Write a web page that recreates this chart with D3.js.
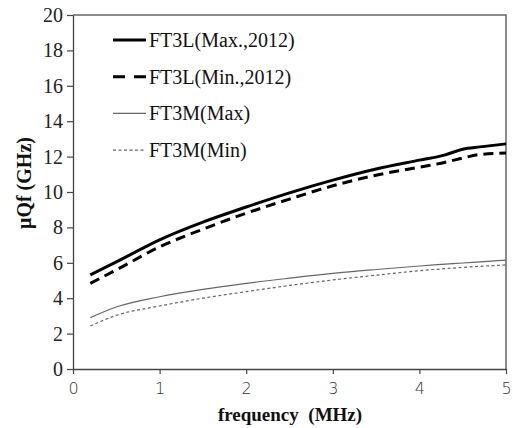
<!DOCTYPE html>
<html>
<head>
<meta charset="utf-8">
<script src="https://cdn.jsdelivr.net/npm/d3@7"></script>
<style>
  html, body { margin: 0; padding: 0; background: #fff; }
  svg { display: block; }
  .serif { font-family: "Liberation Serif", "Times New Roman", serif; }
</style>
</head>
<body>
<svg id="chart" width="513" height="428"></svg>
<script>
// Frequency points (MHz)
const freq = [0.2, 0.5, 1.0, 1.5, 2.0, 2.5, 3.0, 3.5, 4.0, 4.3, 4.5, 4.7, 5.0];

// μQf values (GHz)
const ft3lMax = [5.32, 6.05, 7.3, 8.3, 9.15, 9.95, 10.67, 11.3, 11.8, 12.1, 12.42, 12.55, 12.72];
const ft3lMin = [4.84, 5.6, 6.9, 7.9, 8.8, 9.6, 10.35, 10.95, 11.4, 11.68, 11.92, 12.12, 12.2];
const ft3mMax = [2.9, 3.5, 4.08, 4.5, 4.84, 5.13, 5.4, 5.62, 5.82, 5.92, 5.99, 6.05, 6.15];
const ft3mMin = [2.43, 3.03, 3.56, 4.0, 4.37, 4.72, 5.03, 5.3, 5.55, 5.67, 5.74, 5.8, 5.88];

const seriesNames = ["FT3L(Max.,2012)", "FT3L(Min.,2012)", "FT3M(Max)", "FT3M(Min)"];
const xTicks = [0, 1, 2, 3, 4, 5];
const yTicks = [0, 2, 4, 6, 8, 10, 12, 14, 16, 18, 20];

const svg = d3.select("#chart");
const plotLeft = 73, plotRight = 506, plotTop = 15, plotBottom = 369;

const x = d3.scaleLinear().domain([0, 5]).range([plotLeft, plotRight]);
const y = d3.scaleLinear().domain([0, 20]).range([plotBottom, plotTop]);

// Frame: top and right edges
svg.append("path")
  .attr("d", `M${plotLeft},${plotTop}H${plotRight}V${plotBottom}`)
  .attr("fill", "none")
  .attr("stroke", "#666")
  .attr("stroke-width", 1.5);

// Y axis
const yAxis = svg.append("g")
  .attr("transform", `translate(${plotLeft},0)`)
  .call(d3.axisLeft(y).tickValues(yTicks).tickFormat(d3.format("d"))
    .tickSize(6).tickSizeOuter(0).tickPadding(4));
yAxis.attr("font-family", null);
yAxis.select(".domain").attr("stroke", "#444").attr("stroke-width", 1.3);
yAxis.selectAll(".tick line").attr("stroke", "#444").attr("stroke-width", 1.2);
yAxis.selectAll(".tick text")
  .attr("class", "serif")
  .attr("font-size", 20)
  .attr("fill", "#222");

// X axis
const xAxis = svg.append("g")
  .attr("transform", `translate(0,${plotBottom})`)
  .call(d3.axisBottom(x).tickValues(xTicks).tickFormat(d3.format("d"))
    .tickSize(5).tickSizeOuter(0).tickPadding(9));
xAxis.attr("font-family", null);
xAxis.select(".domain").attr("stroke", "#444").attr("stroke-width", 1.3);
xAxis.selectAll(".tick line").attr("stroke", "#444").attr("stroke-width", 1.2);
xAxis.selectAll(".tick text")
  .attr("font-family", "'DejaVu Sans', 'Liberation Sans', sans-serif")
  .attr("font-size", 16)
  .attr("font-weight", 300)
  .attr("fill", "#333");

// Axis titles
svg.append("text")
  .attr("class", "serif")
  .attr("x", 290)
  .attr("y", 421)
  .attr("text-anchor", "middle")
  .attr("font-weight", "bold")
  .attr("font-size", 19)
  .attr("fill", "#111")
  .attr("xml:space", "preserve")
  .style("white-space", "pre")
  .text("frequency  (MHz)");

svg.append("text")
  .attr("class", "serif")
  .attr("transform", "translate(31,183) rotate(-90)")
  .attr("text-anchor", "middle")
  .attr("font-weight", "bold")
  .attr("font-size", 20)
  .attr("fill", "#111")
  .text("μQf (GHz)");

// Series styling (legendDash: dash pattern for the short legend sample)
const styles = [
  { values: ft3lMax, stroke: "#000", width: 3, dash: null, legendDash: null },
  { values: ft3lMin, stroke: "#000", width: 3, dash: "10,6", legendDash: "12,9" },
  { values: ft3mMax, stroke: "#666", width: 1.2, dash: null, legendDash: null },
  { values: ft3mMin, stroke: "#666", width: 1.2, dash: "3,2.5", legendDash: "3,2.5" }
];

const line = d3.line()
  .x(d => x(d[0]))
  .y(d => y(d[1]))
  .curve(d3.curveMonotoneX);

styles.forEach(s => {
  svg.append("path")
    .datum(freq.map((f, i) => [f, s.values[i]]))
    .attr("d", line)
    .attr("fill", "none")
    .attr("stroke", s.stroke)
    .attr("stroke-width", s.width)
    .attr("stroke-dasharray", s.dash);
});

// Legend
const legend = svg.append("g");
styles.forEach((s, i) => {
  const ly = 40 + i * 36.7;
  legend.append("line")
    .attr("x1", 113).attr("x2", 146)
    .attr("y1", ly).attr("y2", ly)
    .attr("stroke", s.stroke)
    .attr("stroke-width", s.width)
    .attr("stroke-dasharray", s.legendDash);
  legend.append("text")
    .attr("class", "serif")
    .attr("x", 149)
    .attr("y", ly + 7)
    .attr("font-size", 20)
    .attr("fill", "#111")
    .text(seriesNames[i]);
});
</script>
</body>
</html>
